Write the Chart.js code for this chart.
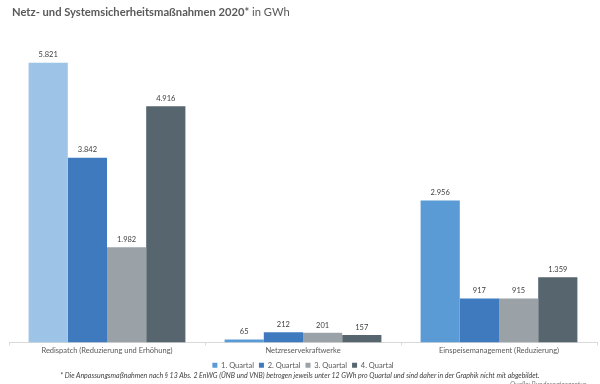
<!DOCTYPE html>
<html>
<head>
<meta charset="utf-8">
<script src="https://cdn.jsdelivr.net/npm/chart.js@4/dist/chart.umd.min.js"></script>
<style>
  html,body{margin:0;padding:0;background:#fff;}
  #wrap{position:relative;width:600px;height:384px;overflow:hidden;}
  #c{position:absolute;left:0;top:0;}
  #title{position:absolute;left:12px;top:5px;font-family:Lato,sans-serif;font-size:11.2px;color:#595959;white-space:nowrap;}
  #title b{font-weight:700;}
  #note{position:absolute;left:0;width:600px;top:371px;text-align:center;font-family:Lato,sans-serif;font-style:italic;font-size:7px;color:#404040;white-space:nowrap;}
  #src{position:absolute;left:510px;top:380px;font-family:Lato,sans-serif;font-style:italic;font-size:6.8px;color:#7f7f7f;white-space:nowrap;}
</style>
</head>
<body>
<div id="wrap">
  <canvas id="c" width="600" height="384"></canvas>
  <div id="title"><b>Netz- und Systemsicherheitsmaßnahmen 2020*</b> in GWh</div>
  <div id="note">* Die Anpassungsmaßnahmen nach § 13 Abs. 2 EnWG (ÜNB und VNB) betrogen jeweils unter 12 GWh pro Quartal und sind daher in der Graphik nicht mit abgebildet.</div>
  <div id="src">Quelle: Bundesnetzagentur</div>
</div>
<script>
const categories = ["Redispatch (Reduzierung und Erhöhung)", "Netzreservekraftwerke", "Einspeisemanagement (Reduzierung)"];
const seriesNames = ["1. Quartal", "2. Quartal", "3. Quartal", "4. Quartal"];
const q1 = [5821, 65, 2956];
const q2 = [3842, 212, 917];
const q3 = [1982, 201, 915];
const q4 = [4916, 157, 1359];

const fmt = v => v.toLocaleString('de-DE');

const labelPlugin = {
  id: 'valueLabels',
  afterDatasetsDraw(chart) {
    const ctx = chart.ctx;
    ctx.save();
    ctx.font = '7.5px Lato, sans-serif';
    ctx.fillStyle = '#404040';
    ctx.textAlign = 'center';
    ctx.textBaseline = 'bottom';
    chart.data.datasets.forEach((ds, i) => {
      const meta = chart.getDatasetMeta(i);
      meta.data.forEach((bar, j) => {
        ctx.fillText(fmt(ds.data[j]), bar.x, bar.y - 4);
      });
    });
    ctx.restore();
  }
};

new Chart(document.getElementById('c'), {
  type: 'bar',
  data: {
    labels: categories,
    datasets: [
      { label: seriesNames[0], data: q1, backgroundColor: ['#9DC3E6', '#5B9BD5', '#5B9BD5'] },
      { label: seriesNames[1], data: q2, backgroundColor: '#3F7ABF' },
      { label: seriesNames[2], data: q3, backgroundColor: '#9AA2A7' },
      { label: seriesNames[3], data: q4, backgroundColor: '#56656E' }
    ]
  },
  options: {
    responsive: false,
    animation: false,
    devicePixelRatio: 1,
    layout: { padding: { left: 9, right: 3, top: 30, bottom: 5 } },
    datasets: { bar: { barPercentage: 1, categoryPercentage: 0.8, borderWidth: 0 } },
    scales: {
      x: {
        grid: { display: true, drawOnChartArea: false, color: '#d9d9d9', tickLength: 3 },
        border: { color: '#d9d9d9' },
        ticks: { color: '#595959', font: { family: 'Lato, sans-serif', size: 7.5 }, padding: 1, maxRotation: 0 }
      },
      y: { display: false, min: 0, max: 6500 }
    },
    plugins: {
      legend: {
        position: 'bottom',
        labels: {
          generateLabels(chart) {
            const cols = ['#5B9BD5', '#3F7ABF', '#9AA2A7', '#56656E'];
            return seriesNames.map((n, i) => ({ text: n, fillStyle: cols[i], strokeStyle: cols[i], lineWidth: 0, datasetIndex: i, fontColor: '#595959' }));
          },
          boxWidth: 5, boxHeight: 5, padding: 5,
          color: '#595959',
          font: { family: 'Lato, sans-serif', size: 7.5 }
        }
      },
      tooltip: { enabled: false },
      title: { display: false }
    }
  },
  plugins: [labelPlugin]
});
</script>
</body>
</html>
